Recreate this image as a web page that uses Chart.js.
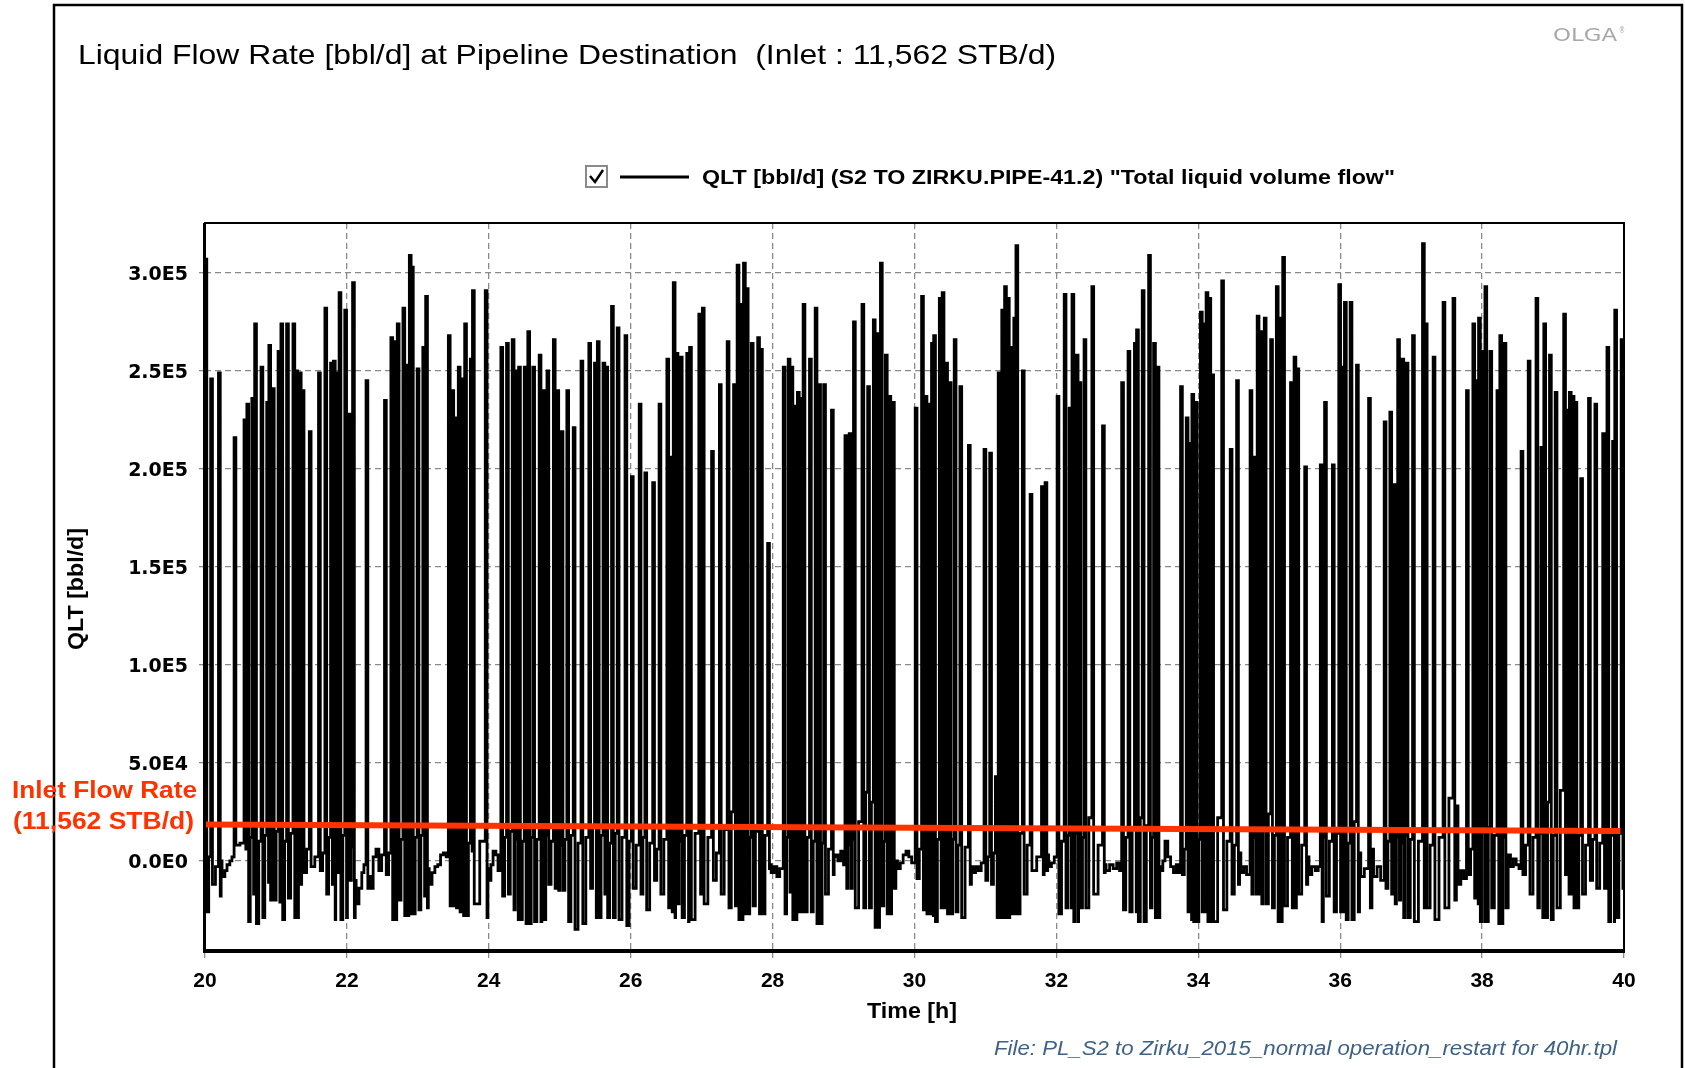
<!DOCTYPE html>
<html>
<head>
<meta charset="utf-8">
<title>Liquid Flow Rate at Pipeline Destination</title>
<script src="https://cdn.jsdelivr.net/npm/chart.js@4.4.1/dist/chart.umd.min.js"></script>
<style>
  html, body { margin: 0; padding: 0; background: #fff; }
  canvas { display: block; }
</style>
</head>
<body>
<canvas id="qlt" width="1685" height="1068"></canvas>
<script>
// QLT slugs: start time [h], peak, level it drops to,
// and the level it bounces back to before the next slug (all in 1000 bbl/d)
const spikeTime = [
  20.00, 20.08, 20.19, 20.41, 20.55, 20.59, 20.66, 20.70, 20.79, 20.87, 20.90, 20.95, 21.03, 21.07, 21.15,
  21.24, 21.28, 21.33, 21.37, 21.47, 21.60, 21.69, 21.77, 21.81, 21.85, 21.89, 21.97, 22.02, 22.08, 22.27,
  22.53, 22.62, 22.67, 22.71, 22.79, 22.84, 22.88, 22.91, 22.99, 23.07, 23.11,
  23.43, 23.48, 23.52, 23.57, 23.62, 23.66, 23.74, 23.77, 23.95, 24.17, 24.25, 24.33, 24.39, 24.42, 24.50,
  24.55, 24.62, 24.71, 24.76, 24.82, 24.91, 24.96, 25.02, 25.10, 25.19, 25.30, 25.41, 25.49, 25.53, 25.61,
  25.65, 25.73, 25.81, 25.92, 26.01, 26.12, 26.20, 26.31, 26.40, 26.51, 26.56, 26.60,
  26.64, 26.70, 26.79, 26.83, 26.96, 27.01, 27.14, 27.25, 27.36, 27.45, 27.50, 27.55, 27.59, 27.63, 27.70,
  27.79, 27.83, 27.93, 28.15, 28.22, 28.26, 28.31, 28.35, 28.40, 28.43, 28.52, 28.60, 28.65, 28.72, 28.83,
  29.02, 29.08, 29.14, 29.26, 29.34, 29.42, 29.47, 29.52, 29.59, 29.64, 29.69,
  30.01, 30.10, 30.15, 30.19, 30.24, 30.27, 30.35, 30.39, 30.44, 30.49, 30.56, 30.64, 30.76, 30.98, 31.06,
  31.14, 31.18, 31.23, 31.27, 31.31, 31.35, 31.40, 31.43, 31.52, 31.63, 31.79, 31.84, 32.01, 32.11, 32.18,
  32.22, 32.28, 32.32, 32.39, 32.50, 32.65, 32.92, 33.01, 33.10, 33.13, 33.21, 33.30,
  33.37, 33.42, 33.75, 33.83, 33.88, 33.91, 33.96, 34.03, 34.07, 34.11, 34.15, 34.19, 34.33, 34.45, 34.54,
  34.73, 34.79, 34.83, 34.87, 34.93, 35.02, 35.10, 35.15, 35.19, 35.30, 35.35, 35.39, 35.50, 35.72, 35.78,
  35.89, 35.98, 36.03, 36.06, 36.14, 36.23, 36.40, 36.62,
  36.70, 36.75, 36.81, 36.87, 36.93, 37.02, 37.16, 37.20, 37.31, 37.45, 37.59, 37.78, 37.87, 37.92, 37.95,
  38.01, 38.04, 38.11, 38.21, 38.25, 38.31, 38.55, 38.65, 38.76, 38.83, 38.87, 38.95, 39.03, 39.15, 39.20,
  39.23, 39.27, 39.31, 39.39, 39.50, 39.59, 39.70, 39.73, 39.76, 39.84, 39.87, 39.96
];
const spikePeakK = [
  307, 246, 249, 216, 225, 233, 236, 274, 252, 234, 263, 241, 260, 274, 274,
  274, 250, 249, 240, 219, 249, 282, 254, 255, 249, 290, 281, 228, 295, 245,
  235, 267, 265, 274, 282, 253, 309, 303, 251, 262, 288,
  268, 240, 226, 252, 246, 274, 256, 291, 291, 262, 264, 266, 250, 252, 252,
  270, 252, 258, 240, 250, 266, 240, 219, 240, 221, 255, 264, 254, 265, 254,
  252, 283, 272, 268, 196, 233, 198, 193, 233, 256, 206, 295,
  259, 257, 259, 262, 279, 282, 209, 243, 265, 243, 304, 284, 305, 292, 264,
  267, 261, 162, 252, 256, 252, 232, 239, 236, 284, 256, 282, 243, 243, 230,
  217, 218, 275, 284, 242, 276, 269, 305, 258, 237, 234,
  231, 288, 237, 233, 264, 268, 287, 290, 254, 244, 266, 242, 212, 210, 208,
  43, 249, 281, 293, 287, 262, 277, 314, 250, 187, 191, 193, 237, 289, 231,
  289, 258, 244, 266, 293, 222, 244, 260, 264, 271, 291, 309,
  264, 252, 242, 226, 213, 238, 234, 280, 274, 290, 287, 248, 296, 210, 245,
  240, 206, 278, 270, 277, 266, 293, 277, 308, 244, 257, 251, 201, 202, 234,
  202, 294, 252, 285, 285, 253, 236, 224,
  229, 192, 266, 256, 254, 268, 315, 274, 257, 285, 287, 240, 274, 245, 277,
  260, 293, 260, 240, 268, 264, 209, 255, 287, 211, 274, 258, 239, 279, 230,
  239, 237, 234, 195, 236, 233, 218, 214, 262, 214, 281, 266
];
const spikeLowK = [
  -26, -12, -18, 8, 6, -31, -17, -32, -29, -11, -20, -20, -21, -30, -19,
  -29, -29, -12, -6, -3, -5, -17, -12, -30, -6, -30, -29, -10, -29, -14,
  -7, -30, -30, -20, -28, -28, -27, -27, -25, -18, -24,
  -23, -23, -24, -26, -28, -28, 5, -22, -29, -18, -17, -25, -30, -30, -32,
  -32, -31, -31, -30, -12, -14, -15, -15, -31, -35, -32, -14, -29, -29, -17,
  -29, -29, -30, -33, -14, -17, -25, -10, -17, -24, -26, -29,
  -22, -29, -31, -30, -17, -22, -10, -17, -24, -23, -30, -30, -27, -27, -23,
  -27, -27, -4, -27, -16, -30, -30, -26, -26, -26, -26, -32, -32, -17, -7,
  -14, -14, -24, -24, -24, -34, -34, -23, -27, -27, -14,
  -9, -25, -27, -27, -28, -31, -24, -24, -27, -27, -26, -29, -12, -10, -12,
  -29, -29, -29, -29, -29, -27, -27, -27, -17, -5, -7, -5, -27, -24, -24,
  -31, -31, -24, -24, -17, -6, -25, -26, -26, -31, -31, -24,
  -29, -29, -7, -26, -30, -31, -31, -26, -26, -31, -31, -31, -25, -17, -12,
  -17, -17, -17, -22, -22, -24, -31, -31, -23, -24, -24, -17, -12, -31, -18,
  -26, -26, -26, -30, -30, -26, -24, -14,
  -17, -22, -20, -29, -29, -31, -24, -24, -30, -24, -20, -7, -19, -22, -31,
  -31, -31, -24, -32, -32, -24, -7, -17, -24, -29, -29, -30, -24, -7, -17,
  -17, -24, -24, -17, -10, -14, -14, -14, -31, -31, -29, -14
];
const spikeReboundK = [
  2, -3, 0, 9, 11, 12, 14, 10, 13, 9, 12, 15, 11, 10, 14,
  12, 13, 9, 6, 2, 4, 12, 10, 14, 11, 13, 9, 7, -10, -8,
  4, 12, 15, 11, 14, 10, 15, 12, 13, 7, -4,
  8, 12, 10, 14, 11, 9, 6, 10, -4, 12, 15, 11, 13, 10, 14,
  12, 11, 9, 13, 10, 12, 8, 11, 13, 9, 12, 18, 10, 13, 11,
  9, 14, 12, 10, 8, 12, 9, 6, 11, 13, 10, 12,
  10, 13, 11, 14, 9, 12, 4, 16, 25, 22, 18, 14, 20, 12, 15,
  11, 13, -2, 12, 10, 14, 11, 9, 13, 12, 10, 14, 9, 6, 2,
  8, 11, 20, 35, 30, 14, 12, 10, 13, 9, 0,
  6, 10, 12, 9, 13, 11, 10, 12, 9, 11, 8, 7, -3, 2, 4,
  16, 14, 17, 12, 15, 13, 10, 14, 8, 2, 5, 3, 10, 13, 11,
  14, 9, 12, 22, 8, -2, 12, 16, 14, 22, 18, 12,
  8, -3, 6, 12, 10, 14, 11, 13, 9, 12, 15, 22, 10, 8, 4,
  12, 14, 11, 16, 24, 13, 10, 15, 12, 9, 11, 8, 2, 12, 10,
  14, 11, 13, 9, 20, 4, 6, 10,
  10, 12, 9, 13, 11, 10, 14, 8, 12, 32, 28, 6, 16, 14, 18,
  15, 17, 13, 14, 12, 3, 8, 12, 14, 10, 30, 13, 36, 14, 11,
  12, 9, 13, 8, 11, 9, 12, 10, 13, 11, 14, 8
];
// baseline between slug groups [h], [1000 bbl/d]
const calmTime = [
  20.24, 20.28, 20.31, 20.35, 20.38, 22.13, 22.17, 22.21, 22.24, 22.33, 22.37, 22.41, 22.45, 22.49,
  23.16, 23.20, 23.24, 23.28, 23.32, 23.36, 23.40, 24.00, 24.03, 24.06, 24.10, 24.13,
  27.98, 28.02, 28.06, 28.10, 28.88, 28.92, 28.96, 29.00, 29.76, 29.80, 29.84, 29.88, 29.92, 29.96,
  30.82, 30.86, 30.90, 30.94, 31.89, 31.93, 31.97, 32.70, 32.75, 32.80, 32.85, 32.89,
  33.47, 33.50, 33.53, 33.57, 33.61, 33.65, 33.69, 33.72, 34.60, 34.64, 34.68,
  35.56, 35.60, 35.65, 35.69, 36.29, 36.34, 36.47, 36.52, 36.57, 37.66, 37.70, 37.74,
  38.40, 38.44, 38.48, 38.52, 40.00
];
const calmK = [
  -8, -5, -2, 0, 2, -22, -14, -6, -2, -14, 2, 6, -5, 3,
  -12, -6, -3, -2, 3, 4, 2, -10, -2, 5, 3, -5,
  -6, -3, -8, -4, 3, 0, 5, -2, -4, -1, 3, 5, 2, -1,
  -6, -3, -5, -1, -3, -1, 2, -5, -2, -4, -1, -5,
  -5, 0, 10, 2, -3, -6, -2, -6, -6, -3, -7,
  -7, -3, -5, -3, -8, -4, -8, -3, -10, -12, -5, -9,
  -3, 1, -2, -4, -14
];
// hand-drawn inlet marker (ends as drawn on the slide)
const inletTime = [20, 39.95];
const inletK = [18.6, 15.2];

const xTicks = [20, 22, 24, 26, 28, 30, 32, 34, 36, 38, 40];
const yTickValues = [0, 50000, 100000, 150000, 200000, 250000, 300000];
const yTickLabels = ['0.0E0', '5.0E4', '1.0E5', '1.5E5', '2.0E5', '2.5E5', '3.0E5'];

const SAMPLE_H = 0.025; // trend output interval: a slug peak lasts one sample

const eventTimes = spikeTime.concat(calmTime).sort((a, b) => a - b);
const qltPoints = [];
spikeTime.forEach((t, i) => {
  const drop = t + SAMPLE_H;
  const next = eventTimes.find(v => v > drop) ?? 40;
  qltPoints.push({ x: t, y: spikePeakK[i] * 1000 });
  qltPoints.push({ x: drop, y: spikeLowK[i] * 1000 });
  qltPoints.push({ x: (drop + next) / 2, y: spikeReboundK[i] * 1000 });
});
calmTime.forEach((t, i) => qltPoints.push({ x: t, y: calmK[i] * 1000 }));
qltPoints.sort((a, b) => a.x - b.x);

const inletPoints = inletTime.map((t, i) => ({ x: t, y: inletK[i] * 1000 }));

function fitText(ctx, text, x, y, font, color, width, align) {
  ctx.save();
  ctx.font = font;
  ctx.fillStyle = color;
  ctx.textBaseline = 'middle';
  ctx.textAlign = align;
  const s = width / ctx.measureText(text).width;
  ctx.translate(x, y);
  ctx.scale(s, 1);
  ctx.fillText(text, 0, 0);
  ctx.restore();
}

const decorations = {
  id: 'decorations',
  afterDraw(chart) {
    const ctx = chart.ctx;
    const a = chart.chartArea;
    ctx.save();

    // plot frame
    ctx.strokeStyle = '#000';
    ctx.lineWidth = 2;
    ctx.strokeRect(a.left, a.top, a.right - a.left, a.bottom - a.top);
    ctx.lineWidth = 3;
    ctx.beginPath();
    ctx.moveTo(a.left - 0.5, a.top);
    ctx.lineTo(a.left - 0.5, a.bottom + 2);
    ctx.stroke();
    ctx.lineWidth = 4;
    ctx.beginPath();
    ctx.moveTo(a.left - 2, a.bottom + 1);
    ctx.lineTo(a.right + 1, a.bottom + 1);
    ctx.stroke();

    // slide frame
    ctx.lineWidth = 2.5;
    ctx.beginPath();
    ctx.moveTo(54, 1068);
    ctx.lineTo(54, 5);
    ctx.lineTo(1682, 5);
    ctx.lineTo(1682, 1068);
    ctx.stroke();

    fitText(ctx, 'Liquid Flow Rate [bbl/d] at Pipeline Destination  (Inlet : 11,562 STB/d)',
      78, 56, '28px "Liberation Sans"', '#000', 978, 'left');
    fitText(ctx, 'OLGA', 1553, 37, '17px "DejaVu Sans"', '#a8a8a8', 64, 'left');
    fitText(ctx, '\u00ae', 1619, 31, '9px "DejaVu Sans"', '#a8a8a8', 6, 'left');

    // legend
    ctx.fillStyle = '#fff';
    ctx.fillRect(586, 166, 21, 21);
    ctx.strokeStyle = '#8a8a8a';
    ctx.lineWidth = 2;
    ctx.strokeRect(586, 166, 21, 21);
    ctx.strokeStyle = '#000';
    ctx.lineWidth = 2.5;
    ctx.beginPath();
    ctx.moveTo(590, 176);
    ctx.lineTo(595, 182);
    ctx.lineTo(603, 170);
    ctx.stroke();
    ctx.lineWidth = 3;
    ctx.beginPath();
    ctx.moveTo(620, 177);
    ctx.lineTo(689, 177);
    ctx.stroke();
    fitText(ctx, 'QLT [bbl/d] (S2 TO ZIRKU.PIPE-41.2) "Total liquid volume flow"',
      702, 178, 'bold 21px "Liberation Sans"', '#000', 693, 'left');

    // axis titles
    fitText(ctx, 'Time [h]', 912, 1012, 'bold 22px "Liberation Sans"', '#000', 90, 'center');
    ctx.save();
    ctx.translate(77, 589);
    ctx.rotate(-Math.PI / 2);
    fitText(ctx, 'QLT [bbl/d]', 0, 0, 'bold 22px "Liberation Sans"', '#000', 122, 'center');
    ctx.restore();

    // inlet annotation
    fitText(ctx, 'Inlet Flow Rate', 197, 791, 'bold 24px "Liberation Sans"', '#ff3300', 185, 'right');
    fitText(ctx, '(11,562 STB/d)', 194, 822, 'bold 24px "Liberation Sans"', '#ff3300', 181, 'right');

    fitText(ctx, 'File: PL_S2 to Zirku_2015_normal operation_restart for 40hr.tpl',
      994, 1049, 'italic 20px "Liberation Sans"', '#3f6185', 623, 'left');
    ctx.restore();
  }
};

const config = {
  type: 'line',
  data: {
    datasets: [{
      label: 'Inlet Flow Rate',
      data: inletPoints,
      borderColor: '#ff3300',
      borderWidth: 6,
      borderCapStyle: 'butt',
      pointRadius: 0
    }, {
      label: 'QLT [bbl/d]',
      data: qltPoints,
      borderColor: '#000',
      borderWidth: 2.8,
      stepped: true,
      pointRadius: 0
    }]
  },
  options: {
    responsive: false,
    animation: false,
    devicePixelRatio: 1,
    layout: { padding: { left: 0, top: 223, right: 61, bottom: 0 } },
    plugins: { legend: { display: false }, tooltip: { enabled: false } },
    scales: {
      x: {
        type: 'linear',
        min: 20,
        max: 40,
        afterBuildTicks: s => { s.ticks = xTicks.map(v => ({ value: v })); },
        afterFit: s => { s.height = 118; },
        grid: { color: '#8a8a8a', lineWidth: 1.3, tickLength: 8, tickColor: '#8a8a8a' },
        border: { display: false, dash: [6, 4] },
        ticks: {
          font: { family: 'Liberation Sans', size: 21, weight: 'bold' },
          color: '#000',
          padding: 11,
          maxRotation: 0,
          autoSkip: false,
          callback: v => String(v)
        }
      },
      y: {
        type: 'linear',
        min: -45500,
        max: 325500,
        afterBuildTicks: s => { s.ticks = yTickValues.map(v => ({ value: v })); },
        afterFit: s => { s.width = 205; },
        grid: { color: '#8a8a8a', lineWidth: 1.3, tickLength: 6, tickColor: '#8a8a8a' },
        border: { display: false, dash: [6, 4] },
        ticks: {
          font: { family: 'DejaVu Sans', size: 19, weight: 'bold' },
          color: '#000',
          padding: 11,
          labelOffset: 2,
          callback: v => yTickLabels[yTickValues.indexOf(v)]
        }
      }
    }
  },
  plugins: [decorations]
};

new Chart(document.getElementById('qlt'), config);
</script>
</body>
</html>
